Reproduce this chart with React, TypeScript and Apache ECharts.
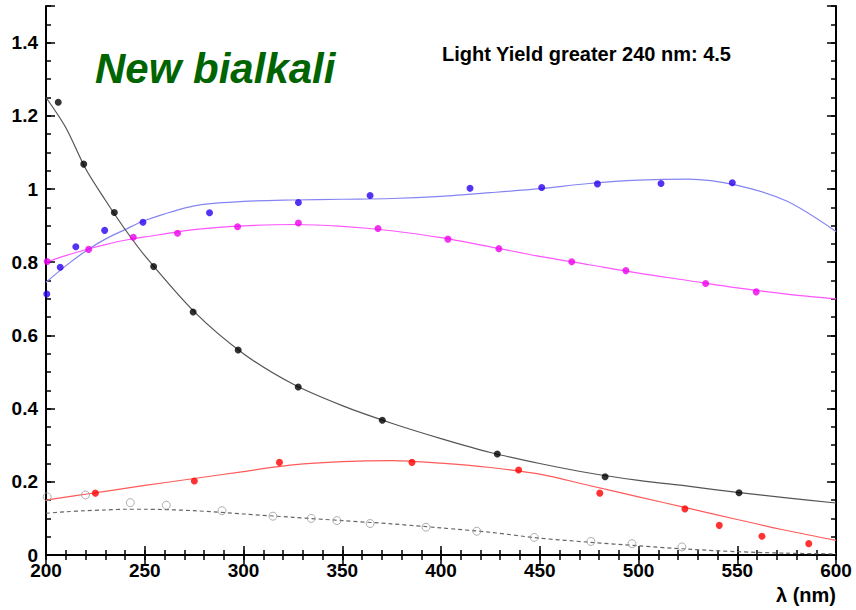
import { useEffect, useRef } from 'react';
import * as echarts from 'echarts';

// Wavelength grid (nm) on which the fitted curves are sampled
const fitNm = [200, 210, 220, 230, 240, 250, 275, 300, 325, 350, 375, 400, 425, 450, 475, 500, 525, 550, 575, 600];

// Fitted curves
const blackFit = [1.25, 1.168, 1.056, 0.97, 0.89, 0.818, 0.665, 0.55, 0.467, 0.408, 0.36, 0.318, 0.28, 0.25, 0.224, 0.204, 0.188, 0.171, 0.156, 0.142];
const blueFit = [0.745, 0.79, 0.83, 0.863, 0.889, 0.914, 0.954, 0.966, 0.97, 0.972, 0.974, 0.98, 0.99, 1.001, 1.015, 1.024, 1.027, 1.01, 0.967, 0.884];
const magentaFit = [0.8, 0.818, 0.834, 0.848, 0.86, 0.869, 0.889, 0.899, 0.903, 0.898, 0.886, 0.867, 0.842, 0.816, 0.793, 0.77, 0.75, 0.73, 0.713, 0.7];
const redFit = [0.15, 0.158, 0.166, 0.174, 0.182, 0.19, 0.209, 0.228, 0.246, 0.255, 0.258, 0.251, 0.239, 0.221, 0.19, 0.159, 0.128, 0.097, 0.067, 0.04];
const grayFit = [0.114, 0.118, 0.121, 0.123, 0.125, 0.125, 0.121, 0.112, 0.103, 0.094, 0.085, 0.074, 0.062, 0.046, 0.035, 0.025, 0.016, 0.009, 0.005, 0.003];

// Measured points
const blackNm = [206.2, 219.1, 234.6, 254.5, 274.5, 297.3, 327.7, 370.3, 428.5, 483.1, 550.9];
const blackVal = [1.237, 1.068, 0.936, 0.788, 0.664, 0.56, 0.459, 0.368, 0.276, 0.214, 0.17];

const blueNm = [200.4, 207.2, 215.1, 229.7, 249.1, 282.8, 327.8, 364.1, 414.7, 451.0, 479.2, 511.4, 547.5];
const blueVal = [0.713, 0.786, 0.842, 0.887, 0.909, 0.935, 0.963, 0.982, 1.002, 1.004, 1.014, 1.015, 1.017];

const magentaNm = [200.6, 221.6, 244.2, 266.6, 297.0, 327.8, 368.1, 403.5, 429.3, 466.2, 493.6, 534.0, 559.6];
const magentaVal = [0.802, 0.835, 0.868, 0.879, 0.897, 0.907, 0.892, 0.863, 0.837, 0.801, 0.777, 0.742, 0.719];

const redNm = [225.0, 275.1, 318.2, 385.3, 439.3, 480.4, 523.5, 540.9, 562.5, 586.2];
const redVal = [0.169, 0.202, 0.253, 0.253, 0.232, 0.169, 0.126, 0.081, 0.051, 0.031];

const grayNm = [200.6, 220.0, 242.7, 260.9, 289.1, 314.9, 334.3, 347.3, 364.1, 392.4, 418.1, 447.2, 475.9, 496.7, 522.0];
const grayVal = [0.159, 0.164, 0.143, 0.136, 0.121, 0.106, 0.1, 0.094, 0.086, 0.076, 0.065, 0.048, 0.037, 0.031, 0.022];

const titleText = 'New bialkali';
const yieldText = 'Light Yield greater 240 nm: 4.5';
const xTitle = 'λ (nm)';

const FONT = '"Liberation Sans", Arial, Helvetica, sans-serif';

const zip = (xs: number[], ys: number[]) => xs.map((x, i) => [x, ys[i]]);

export default function App() {
  const ref = useRef<HTMLDivElement>(null);

  useEffect(() => {
    if (!ref.current) return;
    const chart = echarts.init(ref.current, undefined, { renderer: 'svg' });

    const axisLine = { show: true, lineStyle: { color: '#000', width: 2 } };
    const majorTick = { show: true, inside: true, length: 9, lineStyle: { color: '#000', width: 1.5 } };
    const minorTickStyle = { show: true, inside: true, length: 5, lineStyle: { color: '#000', width: 1.5 } };

    const xBase = { type: 'value' as const, min: 200, max: 600, splitLine: { show: false } };
    const yBase = { type: 'value' as const, min: 0, max: 1.5, splitLine: { show: false } };

    const curve = (data: number[], color: string, dashed = false) => ({
      type: 'line',
      data: zip(fitNm, data),
      smooth: 0.3,
      showSymbol: false,
      silent: true,
      lineStyle: { color, width: 1.2, type: dashed ? [4, 3] : 'solid' },
      z: 2,
    });

    const dots = (xs: number[], ys: number[], color: string) => ({
      type: 'scatter',
      data: zip(xs, ys),
      symbol: 'circle',
      symbolSize: 7,
      clip: false,
      itemStyle: { color },
      z: 3,
    });

    chart.setOption({
      animation: false,
      backgroundColor: '#fff',
      grid: { left: 46, right: 20, top: 6, bottom: 55 },
      xAxis: [
        {
          ...xBase,
          position: 'bottom',
          interval: 50,
          axisLine,
          axisTick: majorTick,
          axisLabel: {
            show: true,
            margin: 6,
            color: '#000',
            fontFamily: FONT,
            fontWeight: 'bold',
            fontSize: 19,
          },
        },
        { ...xBase, position: 'bottom', interval: 10, axisLine: { show: false }, axisTick: minorTickStyle, axisLabel: { show: false } },
        { ...xBase, position: 'top', interval: 50, axisLine, axisTick: majorTick, axisLabel: { show: false } },
        { ...xBase, position: 'top', interval: 10, axisLine: { show: false }, axisTick: minorTickStyle, axisLabel: { show: false } },
      ],
      yAxis: [
        {
          ...yBase,
          position: 'left',
          interval: 0.2,
          axisLine,
          axisTick: majorTick,
          axisLabel: {
            show: true,
            margin: 8,
            color: '#000',
            fontFamily: FONT,
            fontWeight: 'bold',
            fontSize: 19,
            formatter: (v: number) => (v > 1.45 ? '' : String(Math.round(v * 10) / 10)),
          },
        },
        { ...yBase, position: 'left', interval: 0.05, axisLine: { show: false }, axisTick: minorTickStyle, axisLabel: { show: false } },
        { ...yBase, position: 'right', interval: 0.2, axisLine, axisTick: majorTick, axisLabel: { show: false } },
        { ...yBase, position: 'right', interval: 0.05, axisLine: { show: false }, axisTick: minorTickStyle, axisLabel: { show: false } },
      ],
      series: [
        curve(grayFit, '#666', true),
        curve(redFit, '#ff5a5a'),
        curve(magentaFit, '#ff55ff'),
        curve(blueFit, '#8585f2'),
        curve(blackFit, '#555'),
        {
          type: 'scatter',
          data: zip(grayNm, grayVal),
          symbol: 'circle',
          symbolSize: 8,
          clip: false,
          itemStyle: { color: 'rgba(255,255,255,0)', borderColor: '#9a9a9a', borderWidth: 1 },
          z: 3,
        },
        dots(redNm, redVal, '#ff0000'),
        dots(magentaNm, magentaVal, '#ee00ee'),
        dots(blueNm, blueVal, '#2a00f0'),
        dots(blackNm, blackVal, '#000000'),
      ],
      graphic: [
        {
          type: 'text',
          x: 95,
          y: 68,
          style: {
            text: titleText,
            font: `italic bold 42px ${FONT}`,
            fill: '#006400',
            verticalAlign: 'middle',
            align: 'left',
          },
        },
        {
          type: 'text',
          x: 442,
          y: 54,
          style: {
            text: yieldText,
            font: `bold 20px ${FONT}`,
            fill: '#000',
            verticalAlign: 'middle',
            align: 'left',
          },
        },
        {
          type: 'text',
          x: 836,
          y: 595,
          style: {
            text: xTitle,
            font: `bold 20px ${FONT}`,
            fill: '#000',
            verticalAlign: 'middle',
            align: 'right',
          },
        },
      ],
    });

    return () => chart.dispose();
  }, []);

  return <div ref={ref} style={{ position: 'fixed', left: 0, top: 0, width: 856, height: 610 }} />;
}
